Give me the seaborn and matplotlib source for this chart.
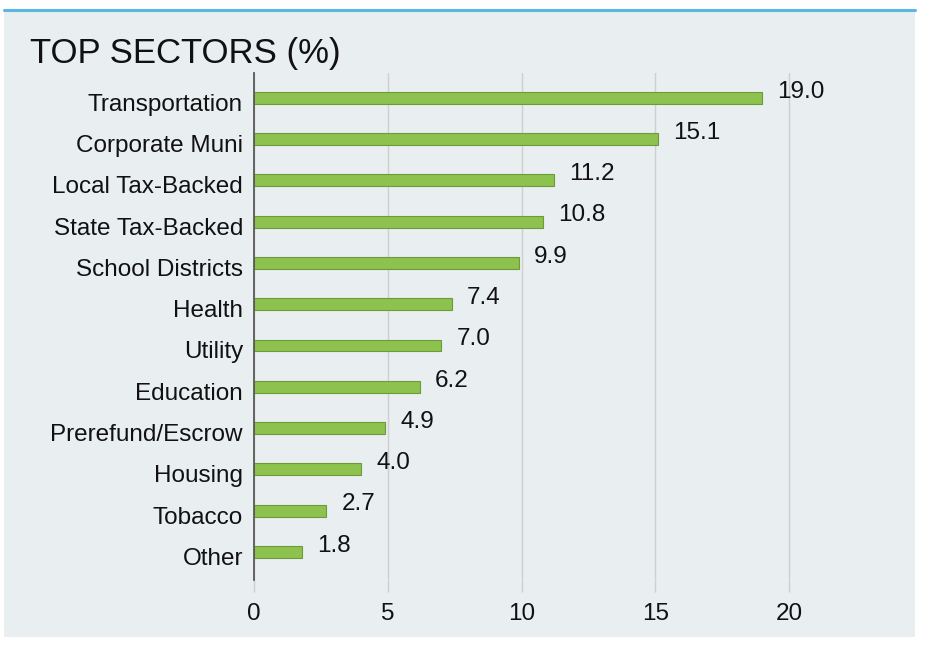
import pandas as pd
import seaborn as sns
import matplotlib.pyplot as plt
from matplotlib.patches import Rectangle
from matplotlib.lines import Line2D
from matplotlib.transforms import ScaledTranslation

# --- Data ---
sectors = ['Transportation', 'Corporate Muni', 'Local Tax-Backed', 'State Tax-Backed',
           'School Districts', 'Health', 'Utility', 'Education', 'Prerefund/Escrow',
           'Housing', 'Tobacco', 'Other']
weights = [19.0, 15.1, 11.2, 10.8, 9.9, 7.4, 7.0, 6.2, 4.9, 4.0, 2.7, 1.8]
x_ticks = [0, 5, 10, 15, 20]

df = pd.DataFrame({'sector': sectors, 'weight': weights})

# --- Style ---
sns.set_theme(style='white')
plt.rcParams['font.family'] = ['Liberation Sans', 'DejaVu Sans']

panel_color = '#E9EEF1'
bar_color = '#8DC24F'
edge_color = '#6B9B3A'
text_color = '#111111'
fs = 17.5

W, H = 926, 646
fig = plt.figure(figsize=(W / 100, H / 100), dpi=100)
fig.patch.set_facecolor('white')

# background panel and blue top rule (behind the axes)
fig.patches.append(Rectangle((4 / W, 1 - 637 / H), (915 - 4) / W, (637 - 11) / H,
                             transform=fig.transFigure, facecolor=panel_color,
                             edgecolor='none', zorder=-10))
fig.lines.append(Line2D([4 / W, 915 / W], [1 - 10 / H, 1 - 10 / H],
                        transform=fig.transFigure, color='#5BB6E4', lw=2.2, zorder=-9))

# axes: x=0 at px 254, x=20 at px 789 -> xlim 0..24 ends at ~896
ax = fig.add_axes([254 / W, 1 - 580 / H, (896 - 254) / W, (580 - 73) / H])
ax.set_facecolor('none')

sns.barplot(data=df, x='weight', y='sector', orient='h', color=bar_color,
            width=0.29, edgecolor=edge_color, linewidth=0.8, saturation=1, ax=ax)

ax.set_xlim(0, 24)
ax.set_ylim(11.68, -0.6)
ax.set_xticks(x_ticks)
ax.set_xticklabels([str(t) for t in x_ticks])
ax.grid(axis='x', color='#CFCFCF', lw=1)
ax.set_axisbelow(True)
ax.set_xlabel('')
ax.set_ylabel('')

for s in ['top', 'right', 'bottom']:
    ax.spines[s].set_visible(False)
ax.spines['left'].set_color('#595959')
ax.spines['left'].set_linewidth(1.3)

ax.tick_params(axis='y', length=0, pad=8, labelsize=fs, labelcolor=text_color)
ax.tick_params(axis='x', length=8.5, width=1, color='#CFCFCF', pad=8,
               labelsize=fs, labelcolor=text_color, bottom=True)

# category labels sit a little below the bar centres
shift = ScaledTranslation(0, -4.5 / 100, fig.dpi_scale_trans)
for lab in ax.get_yticklabels():
    lab.set_transform(lab.get_transform() + shift)

# value labels
for i, v in enumerate(weights):
    ax.annotate(f'{v:.1f}', xy=(v, i), xytext=(11, 4.5), textcoords='offset points',
                ha='left', va='center', fontsize=fs, color=text_color)

fig.text(30 / W, 1 - 63 / H, 'TOP SECTORS (%)', fontsize=25, color=text_color,
         ha='left', va='baseline')

fig.savefig('out.png', dpi=100)
plt.close(fig)
